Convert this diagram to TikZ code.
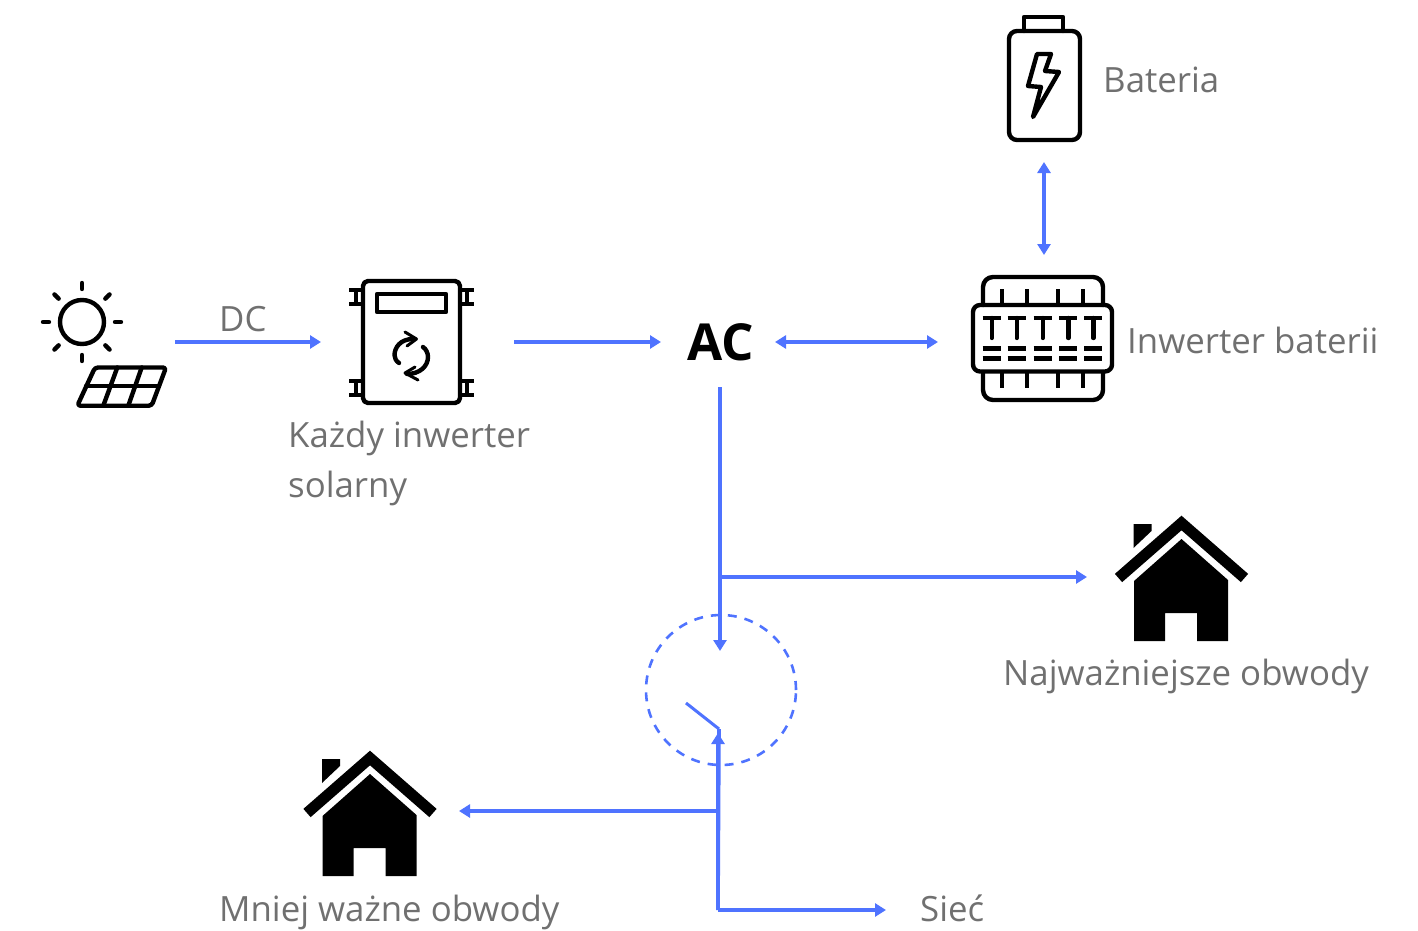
\documentclass[tikz,border=0pt]{standalone}
\usepackage{fontspec}
\setmainfont{Open Sans}
\usetikzlibrary{arrows.meta,calc}
\definecolor{flow}{HTML}{4F73FF}
\definecolor{lab}{HTML}{707070}
\tikzset{
  x=1pt,y=-1pt,
  flowline/.style={draw=flow,line width=3.6pt},
  oneway/.style={flowline,-{Triangle[length=11pt,width=13pt]}},
  twoway/.style={flowline,{Triangle[length=11pt,width=13pt]}-{Triangle[length=11pt,width=13pt]}},
  icon/.style={draw=black,line width=4.4pt,line join=round,line cap=round},
  slot/.style={inner sep=0pt,outer sep=0pt,draw=none},
  lbl/.style={anchor=base west,inner sep=0pt,text=lab,font=\fontsize{34.8}{35}\selectfont},
  pics/homeicon/.style={code={
    \fill[black] (-47.5,65) -- (-47.5,125) -- (-16.5,125) -- (-16.5,97) -- (15.5,97) -- (15.5,125) -- (46.5,125) -- (46.5,64) -- (0,23) -- cycle;
    \fill[black] (-48,8) -- (-30,8) -- (-30,15) -- (-48,32) -- cycle;
    \draw[black,line width=11pt,line join=miter] (-63,62) -- (0,7) -- (63,62);
  }}
}
\begin{document}
\begin{tikzpicture}
\useasboundingbox (0,0) rectangle (1418,931);
% invisible slots that the connectors attach to
\node[slot,minimum width=135pt,minimum height=90pt] (solar) at (107.5,342) {};
\node[slot,minimum width=193pt,minimum height=90pt] (inv) at (417.5,342) {};
\node[slot,minimum width=114pt,minimum height=90pt] (ac) at (718,342) {};
\node[slot,minimum width=212pt,minimum height=174pt] (batinv) at (1044,342) {};
\node[slot,minimum width=90pt,minimum height=144pt] (bat) at (1044,90) {};
\node[slot,minimum width=188pt,minimum height=130pt] (homeA) at (1181,577) {};
\node[slot,minimum width=178pt,minimum height=130pt] (homeB) at (370,811) {};
\node[slot,minimum width=98pt,minimum height=40pt] (grid) at (935,910) {};
\node[circle,draw=flow,line width=2.6pt,dash pattern=on 9pt off 8pt,minimum size=150pt,inner sep=0pt] (sw) at (721,690) {};
\coordinate (swin) at (720,651);
\coordinate (swout) at (718,733);
\coordinate (pivot) at (719,729);
\coordinate (lever) at (686,703);
\coordinate (tapA) at (720,577);
\coordinate (tapB) at (718,811);
\coordinate (tapC) at (718,910);
% sun
\draw[icon] (82,322) circle (22);
\foreach \a in {0,45,...,315}{
  \draw[icon] ($(82,322)+(\a:33)$) -- ($(82,322)+(\a:39)$);
}
% panel
\draw[icon,rounded corners=3pt] (95,367.5) -- (166,367.5) -- (151.7,405.7) -- (77.3,405.7) -- cycle;
\draw[icon] (86,386) -- (159,386);
\draw[icon] (117.3,367.5) -- (103.3,405.7);
\draw[icon] (141.7,367.5) -- (128.3,405.7);
% solar inverter
\draw[icon,rounded corners=5pt] (363,281) rectangle (460,403);
\draw[icon] (377,294) rectangle (446,312);
\foreach \yy in {290,381}{
  \draw[icon,line cap=butt] (349,\yy) -- (363,\yy) (349,\yy+14) -- (363,\yy+14) (356,\yy) -- (356,\yy+14);
  \draw[icon,line cap=butt] (460,\yy) -- (474,\yy) (460,\yy+14) -- (474,\yy+14) (467,\yy) -- (467,\yy+14);
}
\draw[icon] (413,339) .. controls (400,339) and (394.5,348) .. (394.5,355) .. controls (394.5,358) and (396,361) .. (399,363);
\draw[icon] (407,374) .. controls (420,374) and (428,366) .. (428,357) .. controls (428,353) and (426,349) .. (423,347);
\draw[icon,line width=3pt] (405,332) -- (416.5,339) -- (407,346);
\draw[icon,line width=3pt] (418,380) -- (405,373) -- (415,367);
% battery
\draw[icon,rounded corners=8pt] (1009,31) rectangle (1080,140);
\draw[icon] (1024,31) -- (1024,17) -- (1063,17) -- (1063,31);
\draw[icon] (1037,54) -- (1051,54) -- (1045,71) -- (1059,72) -- (1033,117) -- (1041,87) -- (1028,86) -- cycle;
% battery inverter
\draw[icon,rounded corners=7pt] (973,305) rectangle (1112,371.5);
\draw[icon,rounded corners=10pt] (983,305) -- (983,277) -- (1103,277) -- (1103,305);
\draw[icon,rounded corners=10pt] (983,372) -- (983,400) -- (1103,400) -- (1103,372);
\foreach \xx in {1001.7,1026.7,1057.7,1082.7}{
  \draw[icon,line cap=butt] (\xx,289) -- (\xx,305);
  \draw[icon,line cap=butt] (\xx,372) -- (\xx,388);
}
\foreach \xx in {991.7,1016.7,1042.7,1068.3,1093.3}{
  \draw[icon,line cap=butt] (\xx-9,318) -- (\xx+9,318);
  \draw[icon] (\xx,318) -- (\xx,338);
  \draw[icon,line cap=butt] (\xx-9,348.5) -- (\xx+9,348.5);
  \draw[icon,line cap=butt] (\xx-9,358.5) -- (\xx+9,358.5);
}
% houses
\pic at (1181.5,516) {homeicon};
\pic at (370,751) {homeicon};
% connectors
\draw[oneway] (solar) -- (inv);
\draw[oneway] (inv) -- (ac);
\draw[twoway] (ac) -- (batinv);
\draw[twoway] (bat) -- (batinv);
\draw[oneway] ([xshift=2pt]ac.south) -- (swin);
\draw[oneway] (tapA) -- (homeA);
\draw[flowline,line width=3pt] (lever) -- (pivot);
\draw[flowline] (tapC) -- (pivot);
\draw[oneway] (tapC) -- (swout);
\draw[oneway] (tapB) -- (homeB);
\draw[oneway] (tapC) -- (grid);
% labels
\node[lbl] (tdc) at (219,331) {DC};
\node[lbl] (tinv1) at (288,447) {Każdy inwerter};
\node[lbl] (tinv2) at (288,497) {solarny};
\node[lbl] (tbat) at (1103,93) {Bateria};
\node[lbl] (tbi) at (1127,353) {Inwerter baterii};
\node[anchor=base west,inner sep=0pt,text=black,font=\fontsize{51}{51}\selectfont\bfseries] (tac) at (687,360) {AC};
\node[lbl] (tha) at (1003,685) {Najważniejsze obwody};
\node[lbl] (thb) at (219,921) {Mniej ważne obwody};
\node[lbl] (tgr) at (920,921) {Sieć};
\end{tikzpicture}
\end{document}
